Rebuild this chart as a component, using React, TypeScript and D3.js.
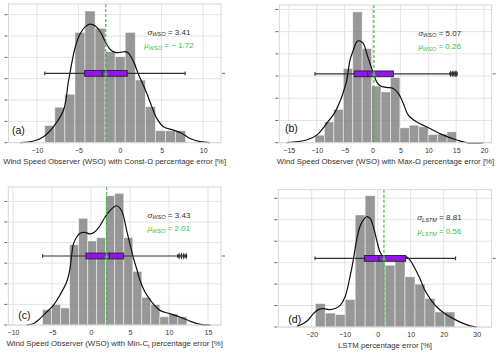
import React, { useRef, useEffect } from 'react';
import * as d3 from 'd3';

// ---- data ----
// histogram heights are in grid-line units (y tick labels are hidden in the figure)
const panelTags = ['(a)', '(b)', '(c)', '(d)'];

const aTicks = [-10, -5, 0, 5, 10];
const bTicks = [-15, -10, -5, 0, 5, 10, 15, 20];
const cTicks = [-10, -5, 0, 5, 10, 15];
const dTicks = [-20, -10, 0, 10, 20, 30];

const aBins = { start: -9.06, width: 1.21 };
const bBins = { start: -10.3, width: 1.69 };
const cBins = { start: -6.2, width: 1.156 };
const dBins = { start: -18.9, width: 3.02 };

const aHeights = [0.8, 1.66, 2.27, 5.17, 6.17, 5.36, 4.27, 4.03, 5.17, 2.94, 1.69, 0.56, 0.56, 0.56];
const bHeights = [0.34, 0.94, 1.5, 3.34, 5.89, 4.24, 2.55, 2.29, 2.94, 0.67, 0.79, 0.72, 0.37, 0.39, 0.49];
const cHeights = [0.74, 1.0, 0.83, 3.9, 5.18, 4.08, 4.24, 6.28, 6.39, 4.24, 2.6, 1.34, 0.99, 0.4, 0.53, 0.4];
const dHeights = [1.09, 0.65, 0.58, 1.28, 5.22, 6.12, 3.35, 2.88, 3.3, 2.34, 2.0, 1.32, 0.7, 0.7];

const aKde: [number, number][] = [
  [-12, 0], [-10.4, 0.08], [-9.2, 0.28], [-8.0, 0.75], [-6.8, 1.53], [-6.18, 2.94], [-5.38, 4.5],
  [-4.78, 5.12], [-4.18, 5.44], [-3.66, 5.56], [-2.98, 5.47], [-2.38, 5.2], [-1.78, 4.73],
  [-1.18, 4.37], [-0.58, 4.23], [0.02, 4.23], [0.62, 4.27], [1.02, 4.19], [1.62, 3.8],
  [2.22, 3.2], [2.62, 2.85], [3.22, 2.31], [3.82, 1.69], [4.42, 1.14], [5.22, 0.75],
  [6.42, 0.59], [7.42, 0.44], [8.42, 0.2], [9.62, 0.05], [10.8, 0],
];
const bKde: [number, number][] = [
  [-15.4, 0], [-11.8, 0.12], [-10.0, 0.34], [-8.2, 0.87], [-6.7, 1.39], [-5.5, 2.07], [-4.93, 2.52],
  [-4.6, 2.82], [-4.03, 3.72], [-3.43, 4.17], [-2.83, 4.54], [-2.42, 4.59], [-1.64, 4.47],
  [-1.04, 4.02], [-0.45, 3.57], [0.15, 3.12], [0.75, 2.74], [1.47, 2.55], [2.54, 2.49],
  [3.73, 2.44], [4.63, 2.22], [5.52, 1.77], [6.42, 1.24], [7.9, 0.94], [10.3, 0.64],
  [12.7, 0.34], [15.1, 0.12], [16.9, 0], [19.9, 0],
];
const cKde: [number, number][] = [
  [-8.25, 0], [-7.4, 0.06], [-6.54, 0.31], [-5.68, 0.63], [-4.83, 0.95], [-3.97, 1.46], [-3.12, 2.09],
  [-2.69, 2.73], [-2.48, 3.38], [-2.26, 3.93], [-1.84, 4.26], [-1.41, 4.45], [-0.77, 4.5],
  [-0.13, 4.42], [0.51, 4.53], [1.15, 4.82], [1.79, 5.23], [2.44, 5.55], [3.29, 5.79],
  [3.93, 5.55], [4.58, 4.58], [5.0, 3.93], [5.42, 3.28], [5.86, 2.73], [6.28, 2.17],
  [6.92, 1.6], [7.78, 1.12], [8.85, 0.71], [10.1, 0.55], [11.4, 0.39], [12.7, 0.18],
  [14.0, 0.03], [15.3, 0],
];
const dKde: [number, number][] = [
  [-24.5, 0.03], [-22.5, 0.16], [-21.0, 0.34], [-19.5, 0.62], [-18.0, 0.81], [-16.5, 0.86],
  [-14.5, 0.81], [-12.9, 0.86], [-11.4, 1.01], [-9.9, 1.4], [-8.4, 2.34], [-7.4, 3.12],
  [-6.4, 4.05], [-5.4, 4.67], [-4.4, 4.98], [-3.33, 5.14], [-2.3, 5.06], [-1.3, 4.67],
  [-0.3, 4.05], [0.7, 3.5], [1.7, 3.27], [3.7, 3.19], [6.2, 3.24], [8.3, 3.3], [9.8, 3.12],
  [11.3, 2.73], [12.8, 2.26], [14.3, 1.71], [16.4, 1.21], [18.4, 0.86], [20.4, 0.62],
  [22.9, 0.39], [25.5, 0.19], [28.0, 0.05], [30.0, 0],
];

// box plots: [lower whisker, q1, median, q3, upper whisker]
const aBox = [-9.06, -4.26, -2.14, 0.86, 7.82];
const bBox = [-10.3, -3.26, -0.86, 3.73, 13.9];
const cBox = [-6.2, -0.64, 2.35, 4.19, 11.1];
const dBox = [-19.0, -4.05, 0.3, 8.48, 23.6];
const bOutliers = [14.0, 14.3, 14.6, 14.9, 15.1];
const cOutliers = [11.3, 11.6, 11.9, 12.2];
const meanLines = [-1.72, 0.26, 2.01, 1.9];

const sigmaSubs = ['WSO', 'WSO', 'WSO', 'LSTM'];
const sigmaValues = ['3.41', '5.07', '3.43', '8.81'];
const muValues = ['\u2212 1.72', '0.26', '2.01', '0.56'];

const xDomains = [[-13.42, 12.14], [-16.7, 21.36], [-10.6, 16.67], [-30.12, 34.55]];
const yMaxes = [6.5, 6.2, 6.7, 6.4];

// ---- layout ----
const layouts = [
  { left: 8.5, right: 221, top: 4, bottom: 142.7, tagX: 12, tagY: 130 },
  { left: 279.3, right: 491.7, top: 5, bottom: 142.7, tagX: 285, tagY: 128.3 },
  { left: 8.3, right: 221, top: 187, bottom: 325, tagX: 18.3, tagY: 315 },
  { left: 278.3, right: 491.7, top: 189.7, bottom: 327, tagX: 288.3, tagY: 319.3 },
];

const FONT = '"Liberation Sans", Arial, sans-serif';
const GREEN = '#3cbf3c';
const PURPLE = '#9413f2';

const panels = [
  { ticks: aTicks, bins: aBins, heights: aHeights, kde: aKde, box: aBox, outliers: [] as number[] },
  { ticks: bTicks, bins: bBins, heights: bHeights, kde: bKde, box: bBox, outliers: bOutliers },
  { ticks: cTicks, bins: cBins, heights: cHeights, kde: cKde, box: cBox, outliers: cOutliers },
  { ticks: dTicks, bins: dBins, heights: dHeights, kde: dKde, box: dBox, outliers: [] as number[] },
];

const App = () => {
  const svgRef = useRef<SVGSVGElement>(null);

  useEffect(() => {
    const svg = d3.select(svgRef.current);
    svg.selectAll('*').remove();

    panels.forEach((d, i) => {
      const p = layouts[i];
      const x = d3.scaleLinear().domain(xDomains[i]).range([p.left, p.right]);
      const y = d3.scaleLinear().domain([0, yMaxes[i]]).range([p.bottom, p.top]);
      const g = svg.append('g');

      g.append('rect')
        .attr('x', p.left).attr('y', p.top)
        .attr('width', p.right - p.left).attr('height', p.bottom - p.top)
        .attr('fill', 'white');

      // grid
      g.selectAll('.vgrid')
        .data(d.ticks)
        .enter().append('line')
        .attr('x1', v => x(v)).attr('x2', v => x(v))
        .attr('y1', p.top).attr('y2', p.bottom)
        .attr('stroke', '#e3e3e3').attr('stroke-width', 1);

      g.selectAll('.hgrid')
        .data(d3.range(0, Math.floor(yMaxes[i]) + 1))
        .enter().append('line')
        .attr('x1', p.left).attr('x2', p.right)
        .attr('y1', v => y(v)).attr('y2', v => y(v))
        .attr('stroke', '#e3e3e3').attr('stroke-width', 1);

      // histogram
      g.selectAll('.bar')
        .data(d.heights)
        .enter().append('rect')
        .attr('x', (h, k) => x(d.bins.start + k * d.bins.width))
        .attr('width', (h, k) => x(d.bins.start + (k + 1) * d.bins.width) - x(d.bins.start + k * d.bins.width))
        .attr('y', h => y(h))
        .attr('height', h => y(0) - y(h))
        .attr('fill', '#7a7a7a')
        .attr('fill-opacity', 0.78)
        .attr('stroke', '#ffffff')
        .attr('stroke-opacity', 0.6)
        .attr('stroke-width', 0.8);

      // kde
      const line = d3.line<[number, number]>()
        .x(v => x(v[0]))
        .y(v => y(v[1]))
        .curve(d3.curveCatmullRom.alpha(0.5));
      g.append('path')
        .attr('d', line(d.kde))
        .attr('fill', 'none')
        .attr('stroke', '#111')
        .attr('stroke-width', 1.2);

      // box plot (twin axis, centred vertically)
      const by = y(yMaxes[i] / 2);
      const [wLo, q1, med, q3, wHi] = d.box;
      g.append('line')
        .attr('x1', x(wLo)).attr('x2', x(wHi))
        .attr('y1', by).attr('y2', by)
        .attr('stroke', '#333').attr('stroke-width', 1.1);
      [wLo, wHi].forEach(v => {
        g.append('line')
          .attr('x1', x(v)).attr('x2', x(v))
          .attr('y1', by - 1.8).attr('y2', by + 1.8)
          .attr('stroke', '#333').attr('stroke-width', 1.1);
      });
      g.append('rect')
        .attr('x', x(q1)).attr('y', by - 2.9)
        .attr('width', x(q3) - x(q1)).attr('height', 5.8)
        .attr('fill', PURPLE)
        .attr('stroke', '#222').attr('stroke-width', 0.9);
      g.append('line')
        .attr('x1', x(med)).attr('x2', x(med))
        .attr('y1', by - 2.9).attr('y2', by + 2.9)
        .attr('stroke', '#222').attr('stroke-width', 0.9);
      g.selectAll('.flier')
        .data(d.outliers)
        .enter().append('path')
        .attr('d', d3.symbol(d3.symbolDiamond, 9)())
        .attr('transform', v => `translate(${x(v)},${by}) scale(0.8,1.3)`)
        .attr('fill', '#333');
      g.append('path')
        .attr('d', d3.symbol(d3.symbolTriangle, 10)())
        .attr('transform', `translate(${x(meanLines[i])},${by + 0.5})`)
        .attr('fill', GREEN);

      // mean line
      g.append('line')
        .attr('x1', x(meanLines[i])).attr('x2', x(meanLines[i]))
        .attr('y1', p.top).attr('y2', p.bottom)
        .attr('stroke', GREEN).attr('stroke-width', 1.2)
        .attr('stroke-dasharray', '3,2');

      // frame
      g.append('rect')
        .attr('x', p.left).attr('y', p.top)
        .attr('width', p.right - p.left).attr('height', p.bottom - p.top)
        .attr('fill', 'none')
        .attr('stroke', '#d6d6d6').attr('stroke-width', 1);

      // y ticks without labels
      g.selectAll('.ytick')
        .data(d3.range(0, Math.floor(yMaxes[i]) + 1))
        .enter().append('line')
        .attr('x1', p.left - 4).attr('x2', p.left - 1)
        .attr('y1', v => y(v)).attr('y2', v => y(v))
        .attr('stroke', '#444').attr('stroke-width', 0.8);
      g.append('line')
        .attr('x1', p.right + 1).attr('x2', p.right + 4)
        .attr('y1', by).attr('y2', by)
        .attr('stroke', '#444').attr('stroke-width', 0.8);

      // x axis labels
      const xAxis = g.append('g')
        .attr('transform', `translate(0, ${p.bottom})`)
        .call(d3.axisBottom(x).tickValues(d.ticks).tickSize(0).tickPadding(5));
      xAxis.select('.domain').remove();
      xAxis.selectAll('.tick text')
        .attr('fill', '#333')
        .style('font-family', FONT)
        .style('font-size', '7px');

      const xl = g.append('text')
        .attr('x', (p.left + p.right) / 2)
        .attr('y', p.bottom + 21)
        .attr('text-anchor', 'middle')
        .attr('fill', '#333')
        .style('font-family', FONT)
        .style('font-size', '7.8px');
      if (i === 0) xl.text('Wind Speed Observer (WSO) with Const-\u03A9 percentage error [%]');
      if (i === 1) xl.text('Wind Speed Observer (WSO) with Max-\u03A9 percentage error [%]');
      if (i === 2) {
        xl.append('tspan').text('Wind Speed Observer (WSO) with Min-C');
        xl.append('tspan').attr('dy', 1.5).style('font-size', '5.5px').text('t');
        xl.append('tspan').attr('dy', -1.5).text(' percentage error [%]');
      }
      if (i === 3) xl.text('LSTM percentage error [%]');

      // stats text
      const cx = p.left + 0.755 * (p.right - p.left);
      const addStat = (sym: string, val: string, yy: number, color: string) => {
        const t = g.append('text')
          .attr('x', cx).attr('y', yy)
          .attr('text-anchor', 'middle')
          .attr('fill', color)
          .style('font-family', FONT)
          .style('font-size', '8px');
        t.append('tspan').style('font-style', 'italic').text(sym);
        t.append('tspan').attr('dy', 1.8).style('font-style', 'italic').style('font-size', '5.6px').text(sigmaSubs[i]);
        t.append('tspan').attr('dy', -1.8).text(` = ${val}`);
      };
      addStat('\u03C3', sigmaValues[i], p.top + 30.5, '#333');
      addStat('\u03BC', muValues[i], p.top + 44, GREEN);

      // panel tag
      g.append('text')
        .attr('x', p.tagX).attr('y', p.tagY)
        .attr('dy', '0.36em')
        .attr('fill', '#111')
        .style('font-family', FONT)
        .style('font-size', '10.5px')
        .text(panelTags[i]);
    });
  }, []);

  return (
    <svg
      ref={svgRef}
      width={500}
      height={354}
      style={{ position: 'absolute', left: 0, top: 0, background: 'white' }}
    />
  );
};

export default App;
